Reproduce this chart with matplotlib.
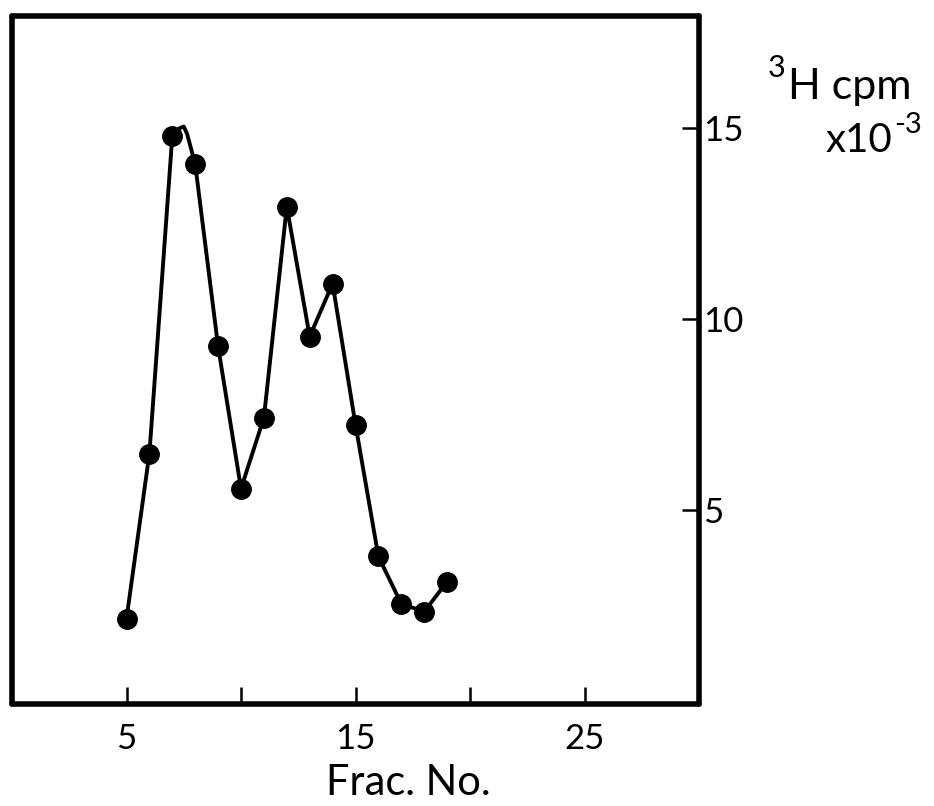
import numpy as np
import matplotlib
matplotlib.use('Agg')
import matplotlib.pyplot as plt

# fraction number vs 3H counts (cpm x 10^-3)
frac = [5, 6, 7, 8, 9, 10, 11, 12, 13, 14, 15, 16, 17, 18, 19]
cpm = [2.14, 6.47, 14.8, 14.06, 9.28, 5.55, 7.41, 12.95, 9.54, 10.93, 7.23, 3.77, 2.53, 2.32, 3.11]

# the drawn curve hooks over the top between fractions 7 and 8
hook_x = [7.3, 7.5, 7.65]
hook_y = [15.0, 15.05, 14.85]

xticks = [5, 10, 15, 20, 25]
xticklabels = ['5', '', '15', '', '25']
yticks = [5, 10, 15]
yticklabels = ['5', '10', '15']

plt.rcParams['font.family'] = ['Lato', 'DejaVu Sans']

fig = plt.figure(figsize=(9.34, 8.06), dpi=100)
ax = fig.add_axes([12/934, 102/806, (699-12)/934, (704-16)/806])

line_x = frac[:3] + hook_x + frac[3:]
line_y = cpm[:3] + hook_y + cpm[3:]
ax.plot(line_x, line_y, color='black', lw=2.8, solid_joinstyle='round')
ax.plot(frac, cpm, 'o', color='black', ms=14)

ax.set_xlim(0, 30)
ax.set_ylim(-0.1, 17.95)

for s in ax.spines.values():
    s.set_linewidth(4)
    s.set_capstyle('round')

ax.yaxis.tick_right()
ax.set_xticks(xticks)
ax.set_xticklabels(xticklabels)
ax.set_yticks(yticks)
ax.set_yticklabels(yticklabels)
ax.tick_params(axis='both', direction='in', length=12, width=1.8, labelsize=25, color='black')
ax.tick_params(axis='x', pad=14)
ax.tick_params(axis='y', pad=3)

fig.text(408/934, 1 - 783/806, 'Frac. No.', ha='center', va='center', fontsize=30)

# axis unit label at top right
fig.text(768/934, 1 - 68/806, '3', ha='left', va='center', fontsize=22)
fig.text(788/934, 1 - 87/806, 'H cpm', ha='left', va='center', fontsize=31)
fig.text(826/934, 1 - 140/806, 'x10', ha='left', va='center', fontsize=29)
fig.text(894/934, 1 - 125/806, '-3', ha='left', va='center', fontsize=21)

fig.savefig('out.png', dpi=100)
